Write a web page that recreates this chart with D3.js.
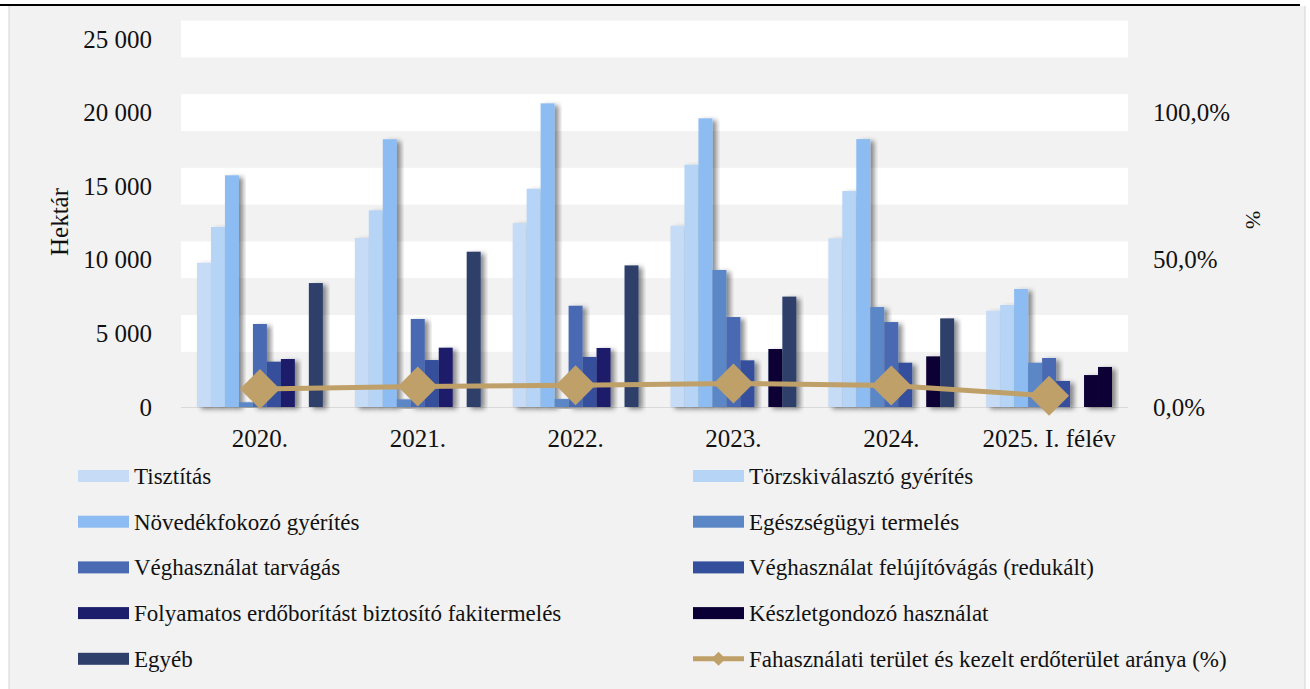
<!DOCTYPE html>
<html>
<head>
<meta charset="utf-8">
<script src="https://cdn.jsdelivr.net/npm/d3@7"></script>
<style>
  body { margin: 0; background: #fff; }
  svg text { font-family: "Liberation Serif", "Times New Roman", "DejaVu Serif", serif; fill: #111; }
</style>
</head>
<body>
<div id="vis"></div>
<script>
// categories and series
var years = ['2020.', '2021.', '2022.', '2023.', '2024.', '2025. I. félév'];

var seriesNames = [
  'Tisztítás',
  'Törzskiválasztó gyérítés',
  'Növedékfokozó gyérítés',
  'Egészségügyi termelés',
  'Véghasználat tarvágás',
  'Véghasználat felújítóvágás (redukált)',
  'Folyamatos erdőborítást biztosító fakitermelés',
  'Készletgondozó használat',
  'Egyéb'
];

var seriesColors = ['#c6dcf6', '#b5d4f6', '#8cbcf1', '#5b87c7', '#4a6ab3',
                    '#34509c', '#1c1e6b', '#0b0036', '#2d3f6a'];

// hectares per year, one array per series
var tisztitas   = [9800, 11480, 12500, 12320, 11460, 6540];
var torzsGyer   = [12230, 13360, 14830, 16460, 14670, 6930];
var novedekGyer = [15740, 18190, 20630, 19610, 18200, 8020];
var egeszseg    = [320, 520, 540, 9310, 6790, 3010];
var tarvagas    = [5640, 5980, 6880, 6110, 5770, 3330];
var felujito    = [3080, 3190, 3400, 3170, 3010, 1770];
var folyamatos  = [3260, 4030, 4010, 0, 0, 0];
var keszlet     = [0, 0, 0, 3940, 3440, 2170];
var egyeb       = [8420, 10550, 9620, 7500, 6020, 2720];

// ratio of harvested area to managed forest area (%)
var arany = [6.1, 7.0, 7.4, 8.0, 7.3, 3.8];
var lineName = 'Fahasználati terület és kezelt erdőterület aránya (%)';

var seriesValues = [tisztitas, torzsGyer, novedekGyer, egeszseg, tarvagas,
                    felujito, folyamatos, keszlet, egyeb];

var leftTicks = [0, 5000, 10000, 15000, 20000, 25000];
var rightTicks = [0, 50, 100];

var width = 1310, height = 689;
var plot = { left: 181, right: 1128, top: 39, bottom: 407 };
var serif = '"Liberation Serif", "Times New Roman", "DejaVu Serif", serif';

var svg = d3.select('#vis').append('svg')
  .attr('width', width)
  .attr('height', height);

var defs = svg.append('defs');
var shadow = defs.append('filter')
  .attr('id', 'barShadow')
  .attr('x', '-30%').attr('y', '-10%')
  .attr('width', '180%').attr('height', '130%');
shadow.append('feDropShadow')
  .attr('dx', 4).attr('dy', 2)
  .attr('stdDeviation', 2.5)
  .attr('flood-color', '#000')
  .attr('flood-opacity', 0.45);

// frame
svg.append('rect')
  .attr('x', 9).attr('y', 6)
  .attr('width', 1296).attr('height', height - 6)
  .attr('fill', '#f2f2f2');
svg.append('line')
  .attr('x1', 9).attr('x2', 9).attr('y1', 6).attr('y2', height)
  .attr('stroke', '#d4d4d4');
svg.append('line')
  .attr('x1', 1305).attr('x2', 1305).attr('y1', 6).attr('y2', height)
  .attr('stroke', '#d4d4d4');
svg.append('line')
  .attr('x1', 0).attr('x2', 1300).attr('y1', 5).attr('y2', 5)
  .attr('stroke', '#000').attr('stroke-width', 2);

var y = d3.scaleLinear().domain([0, 25000]).range([plot.bottom, plot.top]);
var y2 = d3.scaleLinear().domain([0, 125]).range([plot.bottom, plot.top]);

var x0 = d3.scaleBand().domain(years).range([plot.left, plot.right]);
var groupPad = 16;
var x1 = d3.scaleBand().domain(d3.range(seriesNames.length))
  .range([groupPad, x0.bandwidth() - groupPad]);

// banded gridlines: wide white stripes centred on each major tick
var stripeH = (y(0) - y(5000)) / 2;
svg.append('g').selectAll('rect')
  .data(leftTicks.filter(function (d) { return d > 0; }))
  .enter().append('rect')
  .attr('x', plot.left)
  .attr('width', plot.right - plot.left)
  .attr('y', function (d) { return y(d) - stripeH / 2; })
  .attr('height', stripeH)
  .attr('fill', '#fff');

svg.append('line')
  .attr('x1', plot.left).attr('x2', plot.right)
  .attr('y1', y(0) + 0.5).attr('y2', y(0) + 0.5)
  .attr('stroke', '#d9d9d9');

// left axis
var fmt = function (d) { return d3.format(',')(d).replace(/,/g, ' '); };
var leftAxis = svg.append('g')
  .attr('transform', 'translate(' + (plot.left - 29) + ',0)')
  .call(d3.axisLeft(y).tickValues(leftTicks).tickFormat(fmt).tickSize(0).tickPadding(0));
leftAxis.attr('font-family', serif).attr('font-size', 25);
leftAxis.select('.domain').remove();

// right axis
var rightAxis = svg.append('g')
  .attr('transform', 'translate(' + (plot.right + 25) + ',0)')
  .call(d3.axisRight(y2).tickValues(rightTicks)
    .tickFormat(function (d) { return d3.format('.1f')(d).replace('.', ',') + '%'; })
    .tickSize(0).tickPadding(0));
rightAxis.attr('font-family', serif).attr('font-size', 25);
rightAxis.select('.domain').remove();

// x axis labels
var xAxis = svg.append('g')
  .attr('transform', 'translate(0,' + (plot.bottom + 20) + ')')
  .call(d3.axisBottom(x0).tickSize(0).tickPadding(2));
xAxis.attr('font-family', serif).attr('font-size', 25);
xAxis.select('.domain').remove();

// axis titles
svg.append('text')
  .attr('transform', 'translate(68,222) rotate(-90)')
  .attr('text-anchor', 'middle')
  .attr('font-family', serif)
  .attr('font-size', 25)
  .text('Hektár');
svg.append('text')
  .attr('transform', 'translate(1246,220) rotate(90)')
  .attr('text-anchor', 'middle')
  .attr('font-family', serif)
  .attr('font-size', 22)
  .text('%');

// bars
var barData = [];
seriesValues.forEach(function (vals, si) {
  vals.forEach(function (v, yi) {
    barData.push({ series: si, year: years[yi], value: v });
  });
});

function barColor(d) {
  // the last Egyéb bar is filled like Készletgondozó in the source
  if (d.series === 8 && d.year === years[5]) return seriesColors[7];
  return seriesColors[d.series];
}

svg.append('g').selectAll('rect')
  .data(barData.filter(function (d) { return d.value > 0; }))
  .enter().append('rect')
  .attr('x', function (d) { return x0(d.year) + x1(d.series); })
  .attr('width', x1.bandwidth())
  .attr('y', function (d) { return y(d.value); })
  .attr('height', function (d) { return y(0) - y(d.value); })
  .attr('fill', barColor)
  .attr('filter', 'url(#barShadow)');

// ratio line with diamond markers
var cx = function (d, i) { return x0(years[i]) + x0.bandwidth() / 2; };
svg.append('path')
  .datum(arany)
  .attr('fill', 'none')
  .attr('stroke', '#bfa068')
  .attr('stroke-width', 5)
  .attr('d', d3.line().x(cx).y(function (d) { return y2(d); }));

var dHalf = 20;
svg.append('g').selectAll('path')
  .data(arany)
  .enter().append('path')
  .attr('transform', function (d, i) { return 'translate(' + cx(d, i) + ',' + y2(d) + ')'; })
  .attr('d', 'M0,' + (-dHalf) + 'L' + dHalf + ',0L0,' + dHalf + 'L' + (-dHalf) + ',0Z')
  .attr('fill', '#bfa068');

// legend, two columns
var legendItems = seriesNames.map(function (n, i) { return { name: n, color: seriesColors[i], line: false }; });
legendItems.push({ name: lineName, color: '#bfa068', line: true });

var colX = [78, 693];
var rowY0 = 476, rowStep = 45.7;

var legend = svg.append('g')
  .attr('font-family', serif)
  .selectAll('g')
  .data(legendItems)
  .enter().append('g')
  .attr('transform', function (d, i) {
    return 'translate(' + colX[i % 2] + ',' + (rowY0 + Math.floor(i / 2) * rowStep) + ')';
  });

legend.filter(function (d) { return !d.line; }).append('rect')
  .attr('x', 0).attr('y', -6)
  .attr('width', 51).attr('height', 12)
  .attr('fill', function (d) { return d.color; });

var lineKey = legend.filter(function (d) { return d.line; });
lineKey.append('line')
  .attr('x1', 0).attr('x2', 51).attr('y1', 0).attr('y2', 0)
  .attr('stroke', '#bfa068').attr('stroke-width', 5);
lineKey.append('path')
  .attr('d', 'M25.5,-7L32.5,0L25.5,7L18.5,0Z')
  .attr('fill', '#bfa068');

legend.append('text')
  .attr('x', 56)
  .attr('y', 8)
  .attr('font-family', serif)
  .attr('font-size', 23)
  .text(function (d) { return d.name; });
</script>
</body>
</html>
